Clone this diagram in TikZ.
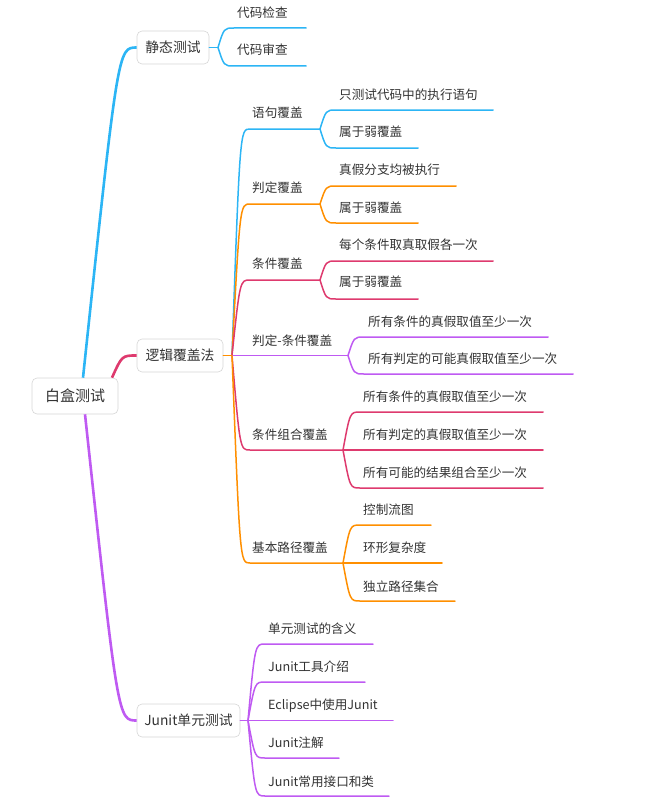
\documentclass[tikz,border=0pt]{standalone}
\usepackage{fontspec}
\setmainfont{Noto Sans CJK SC}
\definecolor{cblue}{HTML}{2CB5F5}
\definecolor{corange}{HTML}{FF8F00}
\definecolor{ccrim}{HTML}{DE3A6E}
\definecolor{cpurp}{HTML}{BF5AF2}
\definecolor{boxgray}{HTML}{D6D6D6}
\definecolor{txt}{HTML}{333333}
\begin{document}
\begin{tikzpicture}[x=1pt,y=-1pt,
  box/.style={draw=boxgray, fill=white, rounded corners=5pt, line width=0.6pt, inner sep=0pt, text=txt, font=\fontsize{13.8}{16}\selectfont},
  leaf/.style={anchor=west, inner sep=0pt, text=txt, font=\fontsize{12.6}{15}\selectfont},
  mainln/.style={line width=2.6pt},
  subln/.style={line width=1.5pt, line cap=round}]
\useasboundingbox (0,0) rectangle (653,808);

% boxes
\node[box, minimum width=86pt, minimum height=36pt, font=\fontsize{15}{17}\selectfont] (root) at (75,396) {白盒测试};
\node[box, minimum width=72pt, minimum height=33pt] (st) at (173,47.5) {静态测试};
\node[box, minimum width=86pt, minimum height=33pt] (lg) at (180,355.5) {逻辑覆盖法};
\node[box, minimum width=103pt, minimum height=33pt] (jt) at (188.5,720.5) {Junit单元测试};

% main branches
\draw[mainln,cblue] ([xshift=8pt]root.north) .. controls (118,47.5) .. (st.west);
\draw[mainln,ccrim] ([xshift=37pt]root.north) .. controls (122,355.5) .. (lg.west);
\draw[mainln,cpurp] ([xshift=10pt]root.south) .. controls (118,720.5) .. (jt.west);

% static test
\coordinate (fS) at (218,47.5);
\draw[subln,cblue] (st.east) -- (fS);
\draw[subln,cblue] (fS) .. controls (224,28) .. (234,28) -- (306,28);
\draw[subln,cblue] (fS) .. controls (224,66) .. (234,66) -- (306,66);
\node[leaf] (s1) at (237,13) {代码检查};
\node[leaf] (s2) at (237,50) {代码审查};

% logic coverage
\coordinate (fL) at (232,355.5);
% 语句覆盖
\draw[subln,cblue] (fL) .. controls (240,129) .. (250,129) -- (320,129) coordinate (fA);
\draw[subln,cblue] (fA) .. controls (326,110) .. (336,110) -- (493,110);
\draw[subln,cblue] (fA) .. controls (326,148) .. (336,148) -- (418,148);
\node[leaf] (a0) at (252,113) {语句覆盖};
\node[leaf] (a1) at (339,95) {只测试代码中的执行语句};
\node[leaf] (a2) at (339,132) {属于弱覆盖};
% 判定覆盖
\draw[subln,corange] (fL) .. controls (240,204) .. (250,204) -- (320,204) coordinate (fB);
\draw[subln,corange] (fB) .. controls (326,186) .. (336,186) -- (456,186);
\draw[subln,corange] (fB) .. controls (326,223) .. (336,223) -- (418,223);
\node[leaf] (b0) at (252,188) {判定覆盖};
\node[leaf] (b1) at (339,170) {真假分支均被执行};
\node[leaf] (b2) at (339,208) {属于弱覆盖};
% 条件覆盖
\draw[subln,ccrim] (fL) .. controls (240,280) .. (250,280) -- (320,280) coordinate (fC);
\draw[subln,ccrim] (fC) .. controls (326,261) .. (336,261) -- (493,261);
\draw[subln,ccrim] (fC) .. controls (326,299) .. (336,299) -- (418,299);
\node[leaf] (c0) at (252,264) {条件覆盖};
\node[leaf] (c1) at (339,245) {每个条件取真取假各一次};
\node[leaf] (c2) at (339,282) {属于弱覆盖};
% 条件组合覆盖
\draw[subln,ccrim] (fL) .. controls (240,450) .. (250,450) -- (343,450) coordinate (fE);
\draw[subln,ccrim] (fE) .. controls (350,412) .. (360,412) -- (543,412);
\draw[subln,ccrim] (fE) -- (543,450);
\draw[subln,ccrim] (fE) .. controls (350,488) .. (360,488) -- (543,488);
\node[leaf] (e0) at (252,435) {条件组合覆盖};
\node[leaf] (e1) at (363,397) {所有条件的真假取值至少一次};
\node[leaf] (e2) at (363,435) {所有判定的真假取值至少一次};
\node[leaf] (e3) at (363,473) {所有可能的结果组合至少一次};
% 基本路径覆盖
\draw[subln,corange] (fL) .. controls (240,563) .. (250,563) -- (343,563) coordinate (fF);
\draw[subln,corange] (fF) .. controls (350,525) .. (360,525) -- (431,525);
\draw[subln,corange] (fF) -- (442,563);
\draw[subln,corange] (fF) .. controls (350,601) .. (360,601) -- (455,601);
\node[leaf] (g0) at (252,548) {基本路径覆盖};
\node[leaf] (g1) at (363,510) {控制流图};
\node[leaf] (g2) at (363,548) {环形复杂度};
\node[leaf] (g3) at (363,587) {独立路径集合};
% 判定-条件覆盖
\draw[subln,cpurp] (fL) -- (348,355.5) coordinate (fD);
\draw[subln,cpurp] (fD) .. controls (354,337) .. (364,337) -- (548,337);
\draw[subln,cpurp] (fD) .. controls (354,374) .. (364,374) -- (573,374);
\node[leaf] (d0) at (252,341) {判定-条件覆盖};
\node[leaf] (d1) at (368,322) {所有条件的真假取值至少一次};
\node[leaf] (d2) at (368,359) {所有判定的可能真假取值至少一次};
\draw[subln,corange] (lg.east) -- (fL);

% Junit
\coordinate (fJ) at (248,720.5);
\draw[subln,cpurp] (jt.east) -- (fJ);
\draw[subln,cpurp] (fJ) .. controls (255,644) .. (265,644) -- (373,644);
\draw[subln,cpurp] (fJ) .. controls (255,682) .. (265,682) -- (365,682);
\draw[subln,cpurp] (fJ) -- (393,720.5);
\draw[subln,cpurp] (fJ) .. controls (255,758) .. (265,758) -- (339,758);
\draw[subln,cpurp] (fJ) .. controls (255,796) .. (265,796) -- (389,796);
\node[leaf] (j1) at (268,629) {单元测试的含义};
\node[leaf] (j2) at (268,667) {Junit工具介绍};
\node[leaf] (j3) at (268,706) {Eclipse中使用Junit};
\node[leaf] (j4) at (268,743) {Junit注解};
\node[leaf] (j5) at (268,782) {Junit常用接口和类};
\end{tikzpicture}
\end{document}
